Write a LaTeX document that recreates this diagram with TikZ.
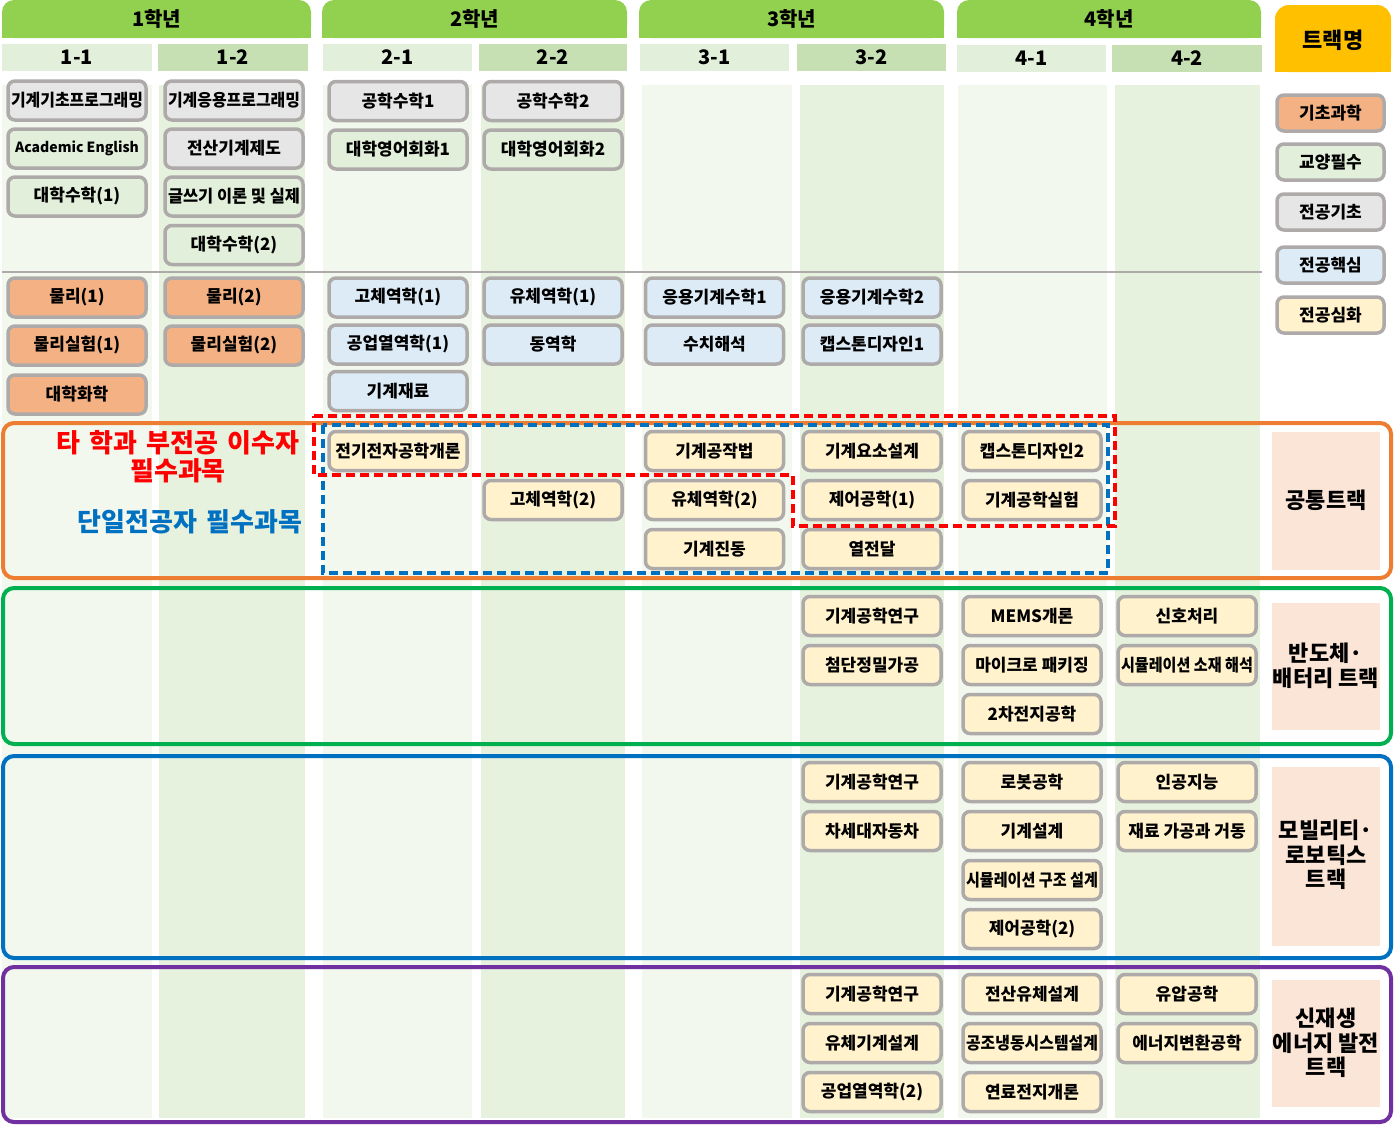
\documentclass[tikz,border=0pt]{standalone}
\usepackage{fontspec}
\usepackage{graphicx}
\setmainfont{Noto Sans CJK KR}
\definecolor{hdrgreen}{HTML}{92D050}
\definecolor{semodd}{HTML}{E2EFDA}
\definecolor{semeven}{HTML}{C6E0B4}
\definecolor{stripodd}{HTML}{F2F8EE}
\definecolor{stripeven}{HTML}{E6F1DE}
\definecolor{boxgray}{HTML}{AEAAAA}
\definecolor{cBS}{HTML}{F4B183}
\definecolor{cGE}{HTML}{E2EFDA}
\definecolor{cMB}{HTML}{E7E6E6}
\definecolor{cMC}{HTML}{DDEBF7}
\definecolor{cMA}{HTML}{FFF2CC}
\definecolor{trkname}{HTML}{FFC000}
\definecolor{lblfill}{HTML}{FBE5D6}
\definecolor{trkorange}{HTML}{ED7D31}
\definecolor{trkgreen}{HTML}{00B050}
\definecolor{trkblue}{HTML}{0070C0}
\definecolor{trkpurple}{HTML}{7030A0}
\definecolor{dashred}{HTML}{FF0000}
\definecolor{dashblue}{HTML}{0070C0}
\newsavebox\fitbox
\newcommand\fitw[1]{\sbox\fitbox{#1}\ifdim\wd\fitbox>132pt\relax\scalebox{\fpeval{132/(\the\wd\fitbox)}}[1]{\usebox\fitbox}\else\usebox\fitbox\fi}
\newcommand\crs[5]{\node[#1] (#2) at (#3,#4) {\fitw{#5}};}
\newcommand\wsp{\hspace{9pt}}
\tikzset{
  course/.style={draw=boxgray, line width=3.5pt, rounded corners=7pt, minimum width=138pt, minimum height=39pt, inner sep=0pt, font=\bfseries\fontsize{17}{20}\selectfont, text=black},
  bs/.style={course, fill=cBS},
  ge/.style={course, fill=cGE},
  mb/.style={course, fill=cMB},
  mc/.style={course, fill=cMC},
  ma/.style={course, fill=cMA},
  legendbox/.style={draw=boxgray, line width=3.5pt, rounded corners=7pt, minimum width=107pt, minimum height=36pt, inner sep=0pt, font=\bfseries\fontsize{17}{20}\selectfont},
  yeartxt/.style={font=\bfseries\fontsize{20}{23}\selectfont, text=black},
  hdrtxt/.style={font=\bfseries\fontsize{22}{25}\selectfont, text=black},
  semtxt/.style={font=\bfseries\fontsize{20}{23}\selectfont, text=black},
  trackframe/.style={line width=4pt, rounded corners=11pt},
  tracktxt/.style={font=\bfseries\fontsize{22}{24.5}\selectfont, align=center, text=black},
  notetxt/.style={font=\bfseries\fontsize{26}{28}\selectfont, align=center},
  dashline/.style={line width=3.5pt, dash pattern=on 9pt off 5pt},
}
\begin{document}
\begin{tikzpicture}[x=1pt,y=-1pt]
\useasboundingbox (0,0) rectangle (1394,1125);
\fill[white] (0,0) rectangle (1394,1125);
% column strips
\fill[stripodd] (2,85) rectangle (152,1118);
\fill[stripeven] (159,85) rectangle (305,1118);
\fill[stripodd] (323,85) rectangle (472,1118);
\fill[stripeven] (481,85) rectangle (625,1118);
\fill[stripodd] (642,85) rectangle (792,1118);
\fill[stripeven] (800,85) rectangle (944,1118);
\fill[stripodd] (958,85) rectangle (1107,1118);
\fill[stripeven] (1115,85) rectangle (1260,1118);
% year headers
\foreach \a/\b in {2/311, 322/627, 639/944, 957/1261}{
  \fill[hdrgreen, rounded corners=12pt] (\a,0) rectangle (\b,38);
  \fill[hdrgreen] (\a,20) rectangle (\b,38);
}
\node[yeartxt] (y1) at (156.5,19) {1학년};
\node[yeartxt] (y2) at (474.5,19) {2학년};
\node[yeartxt] (y3) at (791.5,19) {3학년};
\node[yeartxt] (y4) at (1109,19) {4학년};
% track name header
\fill[trkname, rounded corners=14pt] (1275,5) rectangle (1391,72);
\fill[trkname] (1275,35) rectangle (1391,72);
\node[hdrtxt] (trkhdr) at (1333,40) {트랙명};
% semester headers
\fill[semodd] (2,44) rectangle (152,71);
\fill[semeven] (158,44) rectangle (308,71);
\fill[semodd] (323,44) rectangle (472,71);
\fill[semeven] (479,44) rectangle (627,71);
\fill[semodd] (640,44) rectangle (789,71);
\fill[semeven] (797,44) rectangle (946,71);
\fill[semodd] (957,45) rectangle (1106,72);
\fill[semeven] (1112,45) rectangle (1262,72);
\node[semtxt] (s11) at (77,57.5) {1-1};
\node[semtxt] (s12) at (233,57.5) {1-2};
\node[semtxt] (s21) at (397.5,57.5) {2-1};
\node[semtxt] (s22) at (553,57.5) {2-2};
\node[semtxt] (s31) at (714.5,57.5) {3-1};
\node[semtxt] (s32) at (871.5,57.5) {3-2};
\node[semtxt] (s41) at (1031.5,58.5) {4-1};
\node[semtxt] (s42) at (1187,58.5) {4-2};
% separator line
\draw[boxgray, line width=1.5pt] (2,272) -- (1262,272);
% track frames
\draw[trackframe, trkorange] (3,423) rectangle (1391,578);
\draw[trackframe, trkgreen] (3,588) rectangle (1391,744);
\draw[trackframe, trkblue] (3,756) rectangle (1391,958);
\draw[trackframe, trkpurple] (3,967) rectangle (1391,1122);
% track label boxes
\fill[lblfill] (1272,432) rectangle (1380,570);
\fill[lblfill] (1272,603) rectangle (1380,730);
\fill[lblfill] (1272,767) rectangle (1380,946);
\fill[lblfill] (1272,980) rectangle (1380,1107);
\node[tracktxt] (t1) at (1326,500) {공통트랙};
\node[tracktxt] (t2) at (1326,666) {반도체·\\배터리 트랙};
\node[tracktxt] (t3) at (1326,855) {모빌리티·\\로보틱스\\트랙};
\node[tracktxt] (t4) at (1326,1043) {신재생\\에너지 발전\\트랙};
% legend
\node[legendbox, fill=cBS] (lgbs) at (1330.5,113) {기초과학};
\node[legendbox, fill=cGE] (lgge) at (1330.5,162) {교양필수};
\node[legendbox, fill=cMB] (lgmb) at (1330.5,212) {전공기초};
\node[legendbox, fill=cMC] (lgmc) at (1330.5,265) {전공핵심};
\node[legendbox, fill=cMA] (lgma) at (1330.5,315) {전공심화};
% year 1
\crs{mb}{a1}{77}{100.5}{기계기초프로그래밍}
\crs{ge}{a2}{77}{148.5}{\fontsize{14}{17}\selectfont Academic English}
\crs{ge}{a3}{77}{196.5}{대학수학(1)}
\crs{bs}{a4}{77}{297.5}{물리(1)}
\crs{bs}{a5}{77}{345.5}{물리실험(1)}
\crs{bs}{a6}{77}{394.5}{대학화학}
\crs{mb}{b1}{234}{100.5}{기계응용프로그래밍}
\crs{mb}{b2}{234}{148.5}{전산기계제도}
\crs{ge}{b3}{234}{196.5}{글쓰기 이론 및 실제}
\crs{ge}{b4}{234}{245}{대학수학(2)}
\crs{bs}{b5}{234}{297.5}{물리(2)}
\crs{bs}{b6}{234}{345.5}{물리실험(2)}
% year 2
\crs{mb}{c1}{398}{101}{공학수학1}
\crs{ge}{c2}{398}{149.5}{대학영어회화1}
\crs{mc}{c3}{398}{297.5}{고체역학(1)}
\crs{mc}{c4}{398}{344.5}{공업열역학(1)}
\crs{mc}{c5}{398}{391}{기계재료}
\crs{ma}{c6}{398}{451}{전기전자공학개론}
\crs{mb}{d1}{553}{101}{공학수학2}
\crs{ge}{d2}{553}{149.5}{대학영어회화2}
\crs{mc}{d3}{553}{297.5}{유체역학(1)}
\crs{mc}{d4}{553}{344.5}{동역학}
\crs{ma}{d5}{553}{500}{고체역학(2)}
% year 3
\crs{mc}{e1}{714.5}{297.5}{응용기계수학1}
\crs{mc}{e2}{714.5}{344.5}{수치해석}
\crs{ma}{e3}{714.5}{451}{기계공작법}
\crs{ma}{e4}{714.5}{500}{유체역학(2)}
\crs{ma}{e5}{714.5}{549}{기계진동}
\crs{mc}{f1}{872}{297.5}{응용기계수학2}
\crs{mc}{f2}{872}{344.5}{캡스톤디자인1}
\crs{ma}{f3}{872}{451}{기계요소설계}
\crs{ma}{f4}{872}{500}{제어공학(1)}
\crs{ma}{f5}{872}{549}{열전달}
\crs{ma}{f6}{872}{616}{기계공학연구}
\crs{ma}{f7}{872}{665}{첨단정밀가공}
\crs{ma}{f8}{872}{782}{기계공학연구}
\crs{ma}{f9}{872}{831}{차세대자동차}
\crs{ma}{f10}{872}{994}{기계공학연구}
\crs{ma}{f11}{872}{1043}{유체기계설계}
\crs{ma}{f12}{872}{1092}{공업열역학(2)}
% year 4
\crs{ma}{g1}{1032}{451}{캡스톤디자인2}
\crs{ma}{g2}{1032}{500}{기계공학실험}
\crs{ma}{g3}{1032}{616}{MEMS개론}
\crs{ma}{g4}{1032}{665}{마이크로 패키징}
\crs{ma}{g5}{1032}{714}{2차전지공학}
\crs{ma}{g6}{1032}{782}{로봇공학}
\crs{ma}{g7}{1032}{831}{기계설계}
\crs{ma}{g8}{1032}{880}{시뮬레이션 구조 설계}
\crs{ma}{g9}{1032}{929}{제어공학(2)}
\crs{ma}{g10}{1032}{994}{전산유체설계}
\crs{ma}{g11}{1032}{1043}{공조냉동시스템설계}
\crs{ma}{g12}{1032}{1092}{연료전지개론}
\crs{ma}{h1}{1187}{616}{신호처리}
\crs{ma}{h2}{1187}{665}{시뮬레이션 소재 해석}
\crs{ma}{h3}{1187}{782}{인공지능}
\crs{ma}{h4}{1187}{831}{재료 가공과 거동}
\crs{ma}{h5}{1187}{994}{유압공학}
\crs{ma}{h6}{1187}{1043}{에너지변환공학}
% notes
\node[notetxt, text=dashred] (minornote) at (178,457) {타\wsp 학과\wsp 부전공\wsp 이수자\\필수과목};
\node[notetxt, text=dashblue] (singlenote) at (190,522) {단일전공자\wsp 필수과목};
% dashed groupings
\draw[dashline, dashblue] (323,425) rectangle (1108,573);
\draw[dashline, dashred] (314,416) -- (1115,416) -- (1115,526) -- (793,526) -- (793,475) -- (314,475) -- cycle;
\end{tikzpicture}
\end{document}
